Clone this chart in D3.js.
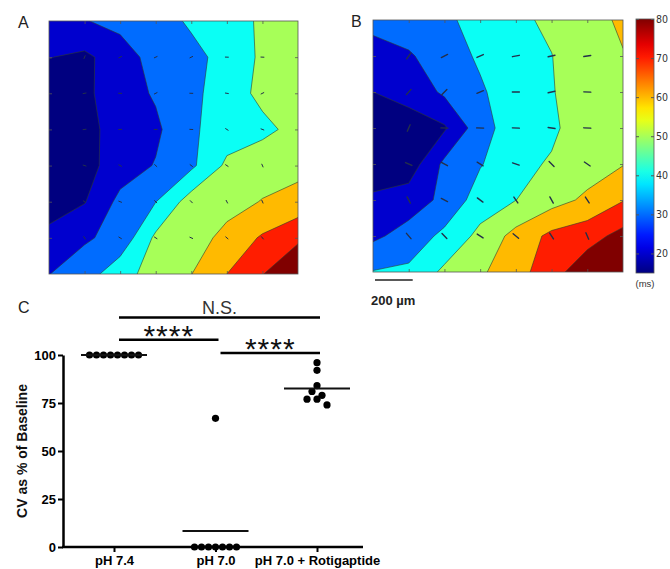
<!DOCTYPE html>
<html>
<head>
<meta charset="utf-8">
<script src="https://cdn.jsdelivr.net/npm/d3@7"></script>
<style>
  body { margin: 0; background: #fff; }
  svg { display: block; font-family: Arial, "Liberation Sans", sans-serif; }
</style>
</head>
<body>
<svg id="fig" width="670" height="569"></svg>
<script>
// activation times (ms) on the 8 x 8 electrode grid, row 0 = top
const activationA = [
  [25, 29.5, 33, 37, 41, 45.5, 51.5, 53],
  [20.3, 18, 25, 34, 38, 42.3, 52, 54],
  [15, 18, 25.4, 31.1, 37, 46, 52, 54],
  [14, 16, 25.3, 28.1, 38.5, 44.7, 48, 52.5],
  [14, 16.5, 25, 30.6, 38, 52, 55, 57.5],
  [15, 19.5, 32.6, 39.8, 54.8, 56, 60.5, 63],
  [23, 28.8, 33, 52, 55, 63.2, 71.2, 79],
  [29.8, 35, 46.6, 53.7, 59.8, 70, 79.8, 85]
];
const activationB = [
  [33, 35, 38, 43.7, 48, 51.8, 56, 61.8],
  [26, 29, 34.6, 41.6, 46, 49.8, 56, 59.5],
  [20, 23, 31.75, 38.5, 46.4, 49.5, 54.5, 58],
  [15, 16, 18.8, 35.8, 45.8, 48, 56.3, 58],
  [13, 14.3, 32.2, 39.3, 47, 51.1, 55, 59.5],
  [22, 25, 32.3, 44.9, 49.9, 56, 62, 69.5],
  [28, 33.9, 42.5, 52.6, 63.3, 72.5, 76, 83.3],
  [40.5, 42, 52, 58.5, 66, 76, 86.5, 90]
];
const contourLevels = [20, 30, 40, 50, 60, 70, 80];
const colorRange = [15, 80];
const colorbarTicks = [20, 30, 40, 50, 60, 70, 80];

// panel C: conduction velocity as % of baseline
const groups = ["pH 7.4", "pH 7.0", "pH 7.0 + Rotigaptide"];
const cvPH74 = [100, 100, 100, 100, 100, 100, 100, 100];
const cvPH70 = [67, 0, 0, 0, 0, 0, 0, 0];
const cvRotigaptide = [96, 92, 84, 81, 79, 77, 77, 74];
const cvTicks = [0, 25, 50, 75, 100];
const sigPairs = [
  ["pH 7.4", "pH 7.0 + Rotigaptide"],
  ["pH 7.4", "pH 7.0"],
  ["pH 7.0", "pH 7.0 + Rotigaptide"]
];
const sigLabels = ["N.S.", "****", "****"];
const sigHeights = [119.5, 108, 101];

const svg = d3.select("#fig");

// matlab style jet colormap
const clamp = (v) => Math.max(0, Math.min(1, v));
const jet = (value) => {
  const t = (value - colorRange[0]) / (colorRange[1] - colorRange[0]);
  const r = clamp(1.5 - Math.abs(4 * t - 3));
  const g = clamp(1.5 - Math.abs(4 * t - 2));
  const b = clamp(1.5 - Math.abs(4 * t - 1));
  return d3.rgb(r * 255, g * 255, b * 255).formatHex();
};

const drawMap = (grid, box, id, arrowLen, arrowWidth) => {
  const n = grid.length;
  // sample i sits at i + 0.5 in d3.contours coordinates
  const xs = d3.scaleLinear().domain([0.5, n - 0.5]).range([box.x0, box.x1]);
  const ys = d3.scaleLinear().domain([0.5, n - 0.5]).range([box.y0, box.y1]);

  svg.append("clipPath").attr("id", id)
    .append("rect")
    .attr("x", box.x0).attr("y", box.y0)
    .attr("width", box.x1 - box.x0).attr("height", box.y1 - box.y0);

  const g = svg.append("g");
  const inner = g.append("g").attr("clip-path", `url(#${id})`);

  const proj = d3.geoTransform({
    point: function (x, y) { this.stream.point(xs(x), ys(y)); }
  });
  const path = d3.geoPath(proj);

  inner.append("rect")
    .attr("x", box.x0).attr("y", box.y0)
    .attr("width", box.x1 - box.x0).attr("height", box.y1 - box.y0)
    .attr("fill", jet(colorRange[0]));

  const contours = d3.contours().size([n, n]).thresholds(contourLevels)(grid.flat());
  inner.selectAll("path.band")
    .data(contours)
    .join("path")
    .attr("class", "band")
    .attr("d", path)
    .attr("fill", (d) => jet(d.value))
    .attr("stroke", "#2f3a2f")
    .attr("stroke-width", 0.6);

  // little velocity arrows along the gradient
  const arrows = [];
  for (let j = 1; j < n - 1; j++) {
    for (let i = 1; i < n - 1; i++) {
      const gx = grid[j][i + 1] - grid[j][i - 1];
      const gy = grid[j + 1][i] - grid[j - 1][i];
      const len = Math.hypot(gx, gy) || 1;
      arrows.push({ i, j, ux: gx / len, uy: gy / len });
    }
  }
  inner.selectAll("line.arrow")
    .data(arrows)
    .join("line")
    .attr("class", "arrow")
    .attr("x1", (d) => xs(d.i + 0.5) - (d.ux * arrowLen) / 2)
    .attr("y1", (d) => ys(d.j + 0.5) - (d.uy * arrowLen) / 2)
    .attr("x2", (d) => xs(d.i + 0.5) + (d.ux * arrowLen) / 2)
    .attr("y2", (d) => ys(d.j + 0.5) + (d.uy * arrowLen) / 2)
    .attr("stroke", "#24304a")
    .attr("stroke-width", arrowWidth)
    .attr("stroke-linecap", "round");

  // inward ticks on the frame
  const tickVals = d3.range(1, n - 1).map((i) => i + 0.5);
  const axes = [
    [d3.axisTop(xs), `translate(0,${box.y0})`],
    [d3.axisBottom(xs), `translate(0,${box.y1})`],
    [d3.axisLeft(ys), `translate(${box.x0},0)`],
    [d3.axisRight(ys), `translate(${box.x1},0)`]
  ];
  axes.forEach(([ax, tr]) => {
    const a = g.append("g").attr("transform", tr)
      .call(ax.tickValues(tickVals).tickSize(-3).tickFormat(""));
    a.select(".domain").remove();
    a.selectAll(".tick line").attr("stroke", "#555").attr("stroke-width", 0.8);
  });

  g.append("rect")
    .attr("x", box.x0).attr("y", box.y0)
    .attr("width", box.x1 - box.x0).attr("height", box.y1 - box.y0)
    .attr("fill", "none")
    .attr("stroke", "#555")
    .attr("stroke-width", 0.8);

  return xs;
};

drawMap(activationA, { x0: 49, x1: 298, y0: 21, y1: 274 }, "clipA", 3, 1);
const xsB = drawMap(activationB, { x0: 373, x1: 623, y0: 20, y1: 272 }, "clipB", 7, 1.4);

// colorbar
const cbar = { x0: 636, x1: 654, y0: 19, y1: 273 };
const cScale = d3.scaleLinear().domain(colorRange).range([cbar.y1, cbar.y0]);
const grad = svg.append("defs").append("linearGradient")
  .attr("id", "jetGrad")
  .attr("x1", 0).attr("y1", 1).attr("x2", 0).attr("y2", 0);
d3.range(0, 1.0001, 0.05).forEach((t) => {
  grad.append("stop")
    .attr("offset", t)
    .attr("stop-color", jet(colorRange[0] + t * (colorRange[1] - colorRange[0])));
});
svg.append("rect")
  .attr("x", cbar.x0).attr("y", cbar.y0)
  .attr("width", cbar.x1 - cbar.x0).attr("height", cbar.y1 - cbar.y0)
  .attr("fill", "url(#jetGrad)")
  .attr("stroke", "#555")
  .attr("stroke-width", 0.8);

const cAxis = svg.append("g")
  .attr("transform", `translate(${cbar.x1},0)`)
  .call(d3.axisRight(cScale).tickValues(colorbarTicks).tickSize(-3).tickPadding(2));
cAxis.select(".domain").remove();
cAxis.selectAll(".tick line").attr("stroke", "#555");
cAxis.selectAll(".tick text")
  .attr("font-family", "'Liberation Sans Narrow', 'DejaVu Sans Condensed', Arial, sans-serif")
  .attr("font-size", 10.5)
  .attr("fill", "#333");
svg.append("g")
  .attr("transform", `translate(${cbar.x0},0)`)
  .call(d3.axisLeft(cScale).tickValues(colorbarTicks).tickSize(-3).tickFormat(""))
  .call((a) => a.select(".domain").remove())
  .selectAll(".tick line").attr("stroke", "#555");

svg.append("text")
  .attr("x", (cbar.x0 + cbar.x1) / 2).attr("y", 287)
  .attr("text-anchor", "middle")
  .attr("font-size", 9.5)
  .attr("fill", "#333")
  .text("(ms)");

// scale bar = one electrode spacing
svg.append("line")
  .attr("x1", 375).attr("x2", 375 + (xsB(1.5) - xsB(0.5)) + 2)
  .attr("y1", 280).attr("y2", 280)
  .attr("stroke", "#222").attr("stroke-width", 1.5);
svg.append("text")
  .attr("x", 371).attr("y", 305)
  .attr("font-size", 13).attr("font-weight", "bold").attr("fill", "#222")
  .text("200 µm");

// panel letters
[["A", 18, 28], ["B", 351, 27], ["C", 18, 313]].forEach(([t, x, y]) => {
  svg.append("text").attr("x", x).attr("y", y)
    .attr("font-size", 16).attr("fill", "#222").text(t);
});

// ---- panel C scatter ----
const plotLeft = 63, plotRight = 363;
const x = d3.scalePoint().domain(groups).range([114, 317]);
const y = d3.scaleLinear().domain([0, 100]).range([547, 355]);
const series = [cvPH74, cvPH70, cvRotigaptide];

const yAxis = svg.append("g")
  .attr("transform", `translate(${plotLeft},0)`)
  .call(d3.axisLeft(y).tickValues(cvTicks).tickSize(5).tickSizeOuter(0).tickPadding(2));
yAxis.select(".domain").attr("stroke", "#000").attr("stroke-width", 2.5);
yAxis.selectAll(".tick line").attr("stroke", "#000").attr("stroke-width", 2);
yAxis.selectAll(".tick text")
  .attr("font-size", 13).attr("font-weight", "bold").attr("fill", "#000");

const xAxis = svg.append("g")
  .attr("transform", `translate(0,${y(0)})`)
  .call(d3.axisBottom(x).tickSize(5).tickSizeOuter(0).tickPadding(4));
xAxis.select(".domain").remove();
xAxis.selectAll(".tick line").attr("stroke", "#000").attr("stroke-width", 2);
xAxis.selectAll(".tick text")
  .attr("font-size", 13).attr("font-weight", "bold").attr("fill", "#000");
svg.append("line")
  .attr("x1", plotLeft - 1).attr("x2", plotRight)
  .attr("y1", y(0)).attr("y2", y(0))
  .attr("stroke", "#000").attr("stroke-width", 2.5);

svg.append("text")
  .attr("transform", `translate(27,${(y(0) + y(100)) / 2}) rotate(-90)`)
  .attr("text-anchor", "middle")
  .attr("font-size", 14).attr("font-weight", "bold").attr("fill", "#111")
  .text("CV as % of Baseline");

// prism style column scatter: bin by height, spread each bin sideways
const swarm = (values, cx) => {
  const bins = d3.group(values.map((v, k) => ({ v, k })), (d) => Math.floor((y(0) - y(d.v)) / 10));
  const pts = [];
  bins.forEach((list) => {
    list.forEach((d, idx) => {
      const step = list.length > 4 ? 7 : 10;
      pts.push({ cx: cx + (idx - (list.length - 1) / 2) * step, cy: y(d.v) });
    });
  });
  return pts;
};

series.forEach((vals, gi) => {
  const cx = x(groups[gi]);
  svg.append("g").selectAll("circle")
    .data(swarm(vals, cx))
    .join("circle")
    .attr("cx", (d) => d.cx)
    .attr("cy", (d) => d.cy)
    .attr("r", 3.6)
    .attr("fill", "#000");
  const m = d3.mean(vals);
  svg.append("line")
    .attr("x1", cx - 33).attr("x2", cx + 33)
    .attr("y1", y(m)).attr("y2", y(m))
    .attr("stroke", "#111").attr("stroke-width", 2);
});

// significance bars
sigPairs.forEach(([a, b], k) => {
  const x1 = x(a) + 5, x2 = x(b) + 3, yy = y(sigHeights[k]);
  svg.append("line")
    .attr("x1", x1).attr("x2", x2).attr("y1", yy).attr("y2", yy)
    .attr("stroke", "#000").attr("stroke-width", 2.5);
  const isStars = sigLabels[k].startsWith("*");
  svg.append("text")
    .attr("x", (x1 + x2) / 2)
    .attr("y", isStars ? yy + 6 : yy - 3.5)
    .attr("text-anchor", "middle")
    .attr("font-size", isStars ? 30 : 18)
    .attr("letter-spacing", isStars ? 1 : 0)
    .attr("fill", isStars ? "#111" : "#333")
    .text(sigLabels[k]);
});
</script>
</body>
</html>
